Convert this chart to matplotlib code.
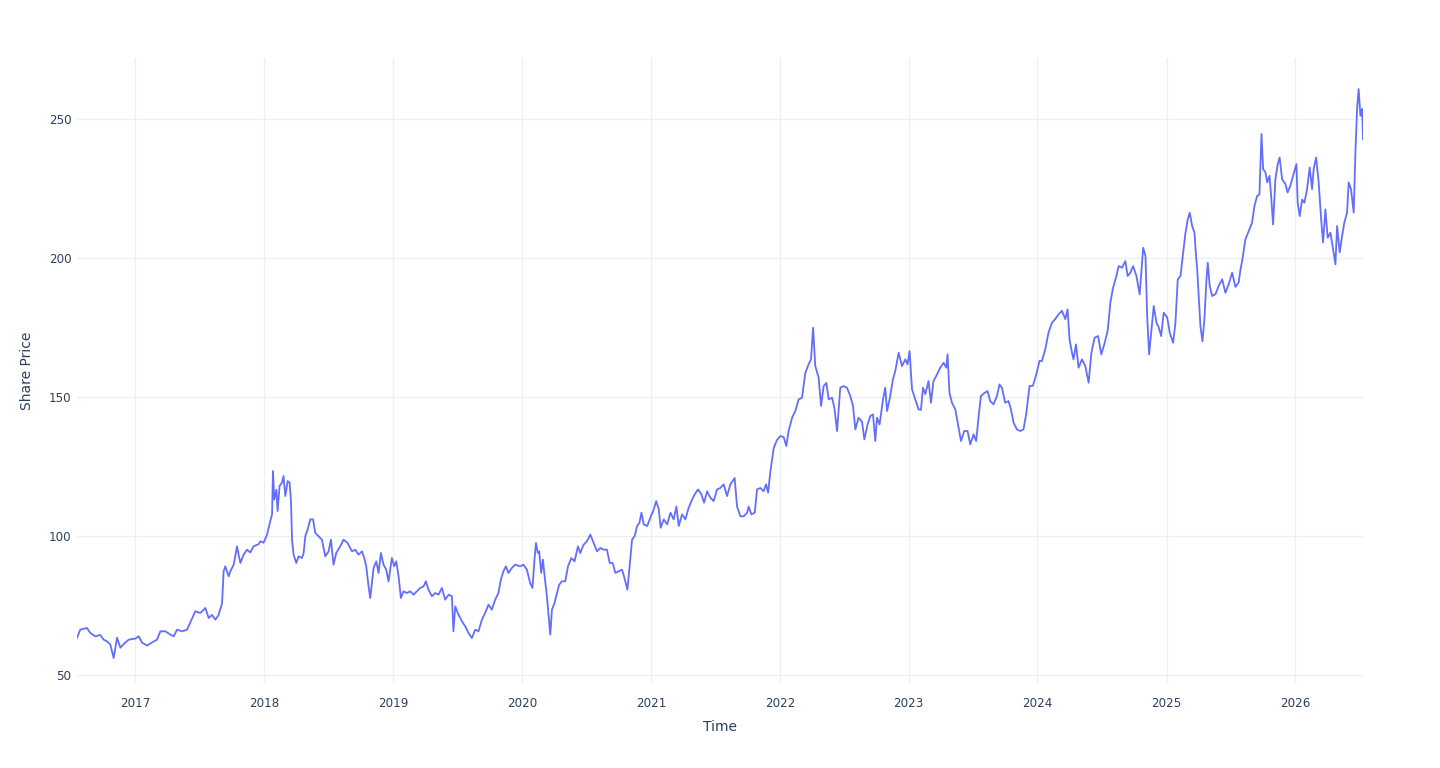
import matplotlib
matplotlib.use("Agg")
import matplotlib.pyplot as plt
import matplotlib.dates as mdates
import pandas as pd

# time in decimal years, price
times = [
    2016.548, 2016.573, 2016.625, 2016.651, 2016.690, 2016.728, 2016.754, 2016.780, 2016.806, 2016.832,
    2016.858, 2016.884, 2016.909, 2016.948, 2017.000, 2017.026, 2017.052, 2017.091, 2017.130, 2017.168,
    2017.194, 2017.233, 2017.272, 2017.297, 2017.324, 2017.362, 2017.401, 2017.427, 2017.465, 2017.504,
    2017.543, 2017.569, 2017.595, 2017.621, 2017.646, 2017.673, 2017.685, 2017.698, 2017.724, 2017.737,
    2017.763, 2017.789, 2017.801, 2017.815, 2017.840, 2017.867, 2017.892, 2017.918, 2017.957, 2017.970,
    2017.995, 2018.022, 2018.047, 2018.061, 2018.068, 2018.078, 2018.094, 2018.104, 2018.119, 2018.138,
    2018.150, 2018.164, 2018.182, 2018.197, 2018.208, 2018.216, 2018.228, 2018.249, 2018.267, 2018.293,
    2018.306, 2018.319, 2018.337, 2018.358, 2018.379, 2018.396, 2018.422, 2018.448, 2018.474, 2018.500,
    2018.518, 2018.538, 2018.559, 2018.590, 2018.616, 2018.647, 2018.681, 2018.707, 2018.732, 2018.759,
    2018.777, 2018.792, 2018.810, 2018.823, 2018.849, 2018.870, 2018.888, 2018.906, 2018.926, 2018.947,
    2018.965, 2018.991, 2019.009, 2019.025, 2019.043, 2019.061, 2019.081, 2019.108, 2019.133, 2019.159,
    2019.185, 2019.211, 2019.237, 2019.255, 2019.275, 2019.302, 2019.327, 2019.353, 2019.379, 2019.405,
    2019.431, 2019.457, 2019.469, 2019.483, 2019.508, 2019.535, 2019.560, 2019.586, 2019.612, 2019.638,
    2019.663, 2019.690, 2019.715, 2019.741, 2019.767, 2019.793, 2019.818, 2019.837, 2019.857, 2019.876,
    2019.896, 2019.922, 2019.948, 2019.987, 2020.012, 2020.039, 2020.064, 2020.082, 2020.098, 2020.109,
    2020.124, 2020.134, 2020.150, 2020.163, 2020.175, 2020.194, 2020.220, 2020.233, 2020.253, 2020.272,
    2020.289, 2020.310, 2020.336, 2020.357, 2020.383, 2020.408, 2020.434, 2020.452, 2020.478, 2020.504,
    2020.530, 2020.556, 2020.582, 2020.607, 2020.633, 2020.659, 2020.680, 2020.703, 2020.724, 2020.749,
    2020.776, 2020.801, 2020.817, 2020.832, 2020.853, 2020.874, 2020.892, 2020.910, 2020.926, 2020.943,
    2020.970, 2020.995, 2021.021, 2021.040, 2021.060, 2021.075, 2021.099, 2021.125, 2021.151, 2021.176,
    2021.197, 2021.215, 2021.241, 2021.267, 2021.288, 2021.313, 2021.339, 2021.365, 2021.391, 2021.412,
    2021.435, 2021.461, 2021.486, 2021.513, 2021.538, 2021.564, 2021.590, 2021.616, 2021.649, 2021.668,
    2021.694, 2021.719, 2021.746, 2021.758, 2021.779, 2021.805, 2021.823, 2021.849, 2021.874, 2021.893,
    2021.909, 2021.926, 2021.952, 2021.978, 2022.004, 2022.030, 2022.050, 2022.068, 2022.095, 2022.120,
    2022.146, 2022.172, 2022.198, 2022.223, 2022.242, 2022.258, 2022.275, 2022.301, 2022.320, 2022.340,
    2022.361, 2022.379, 2022.405, 2022.423, 2022.444, 2022.469, 2022.495, 2022.521, 2022.547, 2022.568,
    2022.586, 2022.611, 2022.638, 2022.656, 2022.681, 2022.702, 2022.723, 2022.741, 2022.754, 2022.774,
    2022.801, 2022.818, 2022.832, 2022.852, 2022.878, 2022.896, 2022.922, 2022.948, 2022.974, 2022.991,
    2023.007, 2023.026, 2023.051, 2023.077, 2023.095, 2023.111, 2023.129, 2023.154, 2023.173, 2023.193,
    2023.220, 2023.245, 2023.271, 2023.292, 2023.302, 2023.317, 2023.336, 2023.362, 2023.387, 2023.406,
    2023.431, 2023.457, 2023.478, 2023.504, 2023.524, 2023.542, 2023.561, 2023.587, 2023.612, 2023.633,
    2023.659, 2023.685, 2023.705, 2023.724, 2023.749, 2023.775, 2023.794, 2023.814, 2023.840, 2023.866,
    2023.891, 2023.912, 2023.938, 2023.964, 2023.990, 2024.016, 2024.034, 2024.060, 2024.085, 2024.112,
    2024.137, 2024.163, 2024.189, 2024.215, 2024.233, 2024.248, 2024.267, 2024.279, 2024.298, 2024.318,
    2024.344, 2024.370, 2024.396, 2024.417, 2024.442, 2024.469, 2024.494, 2024.517, 2024.543, 2024.564,
    2024.585, 2024.611, 2024.628, 2024.655, 2024.680, 2024.698, 2024.719, 2024.740, 2024.766, 2024.791,
    2024.818, 2024.836, 2024.849, 2024.864, 2024.880, 2024.900, 2024.921, 2024.939, 2024.957, 2024.977,
    2025.004, 2025.024, 2025.050, 2025.068, 2025.086, 2025.107, 2025.128, 2025.146, 2025.164, 2025.179,
    2025.198, 2025.216, 2025.226, 2025.237, 2025.249, 2025.262, 2025.278, 2025.293, 2025.309, 2025.319,
    2025.334, 2025.353, 2025.379, 2025.404, 2025.431, 2025.456, 2025.482, 2025.508, 2025.534, 2025.559,
    2025.573, 2025.586, 2025.611, 2025.637, 2025.663, 2025.681, 2025.702, 2025.720, 2025.736, 2025.749,
    2025.767, 2025.780, 2025.798, 2025.811, 2025.826, 2025.844, 2025.862, 2025.877, 2025.896, 2025.922,
    2025.939, 2025.960, 2025.981, 2026.007, 2026.017, 2026.033, 2026.051, 2026.069, 2026.090, 2026.110,
    2026.129, 2026.141, 2026.160, 2026.180, 2026.199, 2026.214, 2026.232, 2026.250, 2026.271, 2026.292,
    2026.310, 2026.323, 2026.343, 2026.362, 2026.379, 2026.400, 2026.413, 2026.431, 2026.452, 2026.465,
    2026.478, 2026.490, 2026.504, 2026.517, 2026.524,
]

prices = [
    63.2, 66.2, 66.8, 65.0, 63.8, 64.3, 62.6, 62.0, 60.8, 56.0,
    63.3, 59.7, 61.0, 62.6, 63.0, 63.8, 61.5, 60.5, 61.6, 62.6,
    65.6, 65.6, 64.4, 63.8, 66.2, 65.6, 66.2, 68.9, 72.8, 72.2,
    74.0, 70.4, 71.5, 69.8, 71.5, 75.8, 87.2, 89.0, 85.4, 87.2,
    89.6, 96.2, 93.2, 90.2, 93.2, 95.0, 94.0, 96.2, 97.0, 98.0,
    97.5, 100.4, 105.3, 107.7, 123.3, 113.0, 116.6, 108.9, 117.9, 119.1,
    121.5, 114.3, 119.7, 119.1, 112.5, 98.6, 93.2, 90.2, 92.6, 92.0,
    93.8, 99.8, 102.3, 105.9, 105.9, 101.1, 99.8, 98.6, 92.6, 94.4,
    98.6, 89.6, 93.8, 96.2, 98.6, 97.4, 94.4, 95.0, 93.2, 94.4,
    92.0, 89.0, 81.8, 77.6, 88.4, 90.8, 86.6, 93.8, 89.6, 87.8,
    83.6, 92.0, 89.0, 90.8, 85.4, 77.6, 80.0, 79.4, 80.0, 78.8,
    80.0, 81.2, 81.8, 83.6, 80.6, 78.2, 79.4, 78.8, 81.2, 77.0,
    78.8, 78.2, 65.6, 74.6, 71.6, 69.2, 67.4, 65.0, 63.2, 66.2,
    65.6, 69.8, 72.2, 75.2, 73.4, 77.0, 79.4, 84.2, 87.2, 89.0,
    86.6, 88.4, 89.6, 89.0, 89.6, 87.8, 83.0, 81.2, 91.4, 97.4,
    93.8, 94.4, 86.6, 91.4, 86.0, 78.2, 64.4, 73.4, 75.8, 79.4,
    82.4, 83.6, 83.6, 89.0, 92.0, 90.8, 96.2, 93.8, 96.8, 98.0,
    100.4, 97.4, 94.4, 95.6, 95.0, 95.0, 90.2, 90.2, 86.6, 87.2,
    87.8, 83.6, 80.6, 87.8, 98.6, 100.0, 103.5, 104.7, 108.3, 104.1,
    103.5, 106.5, 109.5, 112.5, 109.5, 102.9, 105.9, 104.1, 108.3, 105.9,
    110.5, 103.5, 107.7, 105.9, 109.5, 112.5, 114.9, 116.7, 114.9, 111.9,
    116.0, 113.7, 112.5, 116.7, 117.2, 118.5, 114.3, 118.5, 120.8, 110.5,
    107.0, 107.0, 108.3, 110.5, 107.7, 108.3, 116.7, 117.2, 116.0, 118.5,
    115.5, 123.0, 131.5, 134.5, 135.9, 135.5, 132.3, 137.7, 142.5, 144.9,
    149.1, 149.7, 158.7, 161.7, 163.5, 174.9, 161.1, 156.9, 146.7, 153.9,
    155.0, 149.1, 149.7, 146.1, 137.7, 153.3, 153.9, 153.3, 150.3, 146.7,
    138.3, 142.5, 141.0, 134.7, 140.1, 143.1, 143.7, 134.1, 142.5, 140.1,
    149.1, 153.3, 144.9, 149.1, 156.3, 159.3, 165.9, 161.1, 163.5, 161.7,
    166.5, 152.7, 149.1, 145.5, 145.3, 153.3, 151.0, 155.7, 147.9, 155.7,
    158.1, 160.5, 162.3, 160.5, 165.3, 151.4, 147.9, 145.5, 138.9, 134.1,
    137.7, 137.7, 132.9, 136.5, 134.1, 142.5, 150.3, 151.4, 152.1, 148.5,
    147.3, 150.3, 154.5, 153.3, 147.9, 148.5, 145.5, 140.7, 138.3, 137.7,
    138.3, 143.7, 153.9, 154.0, 158.0, 163.0, 162.9, 167.1, 173.1, 176.7,
    178.0, 179.7, 181.0, 178.0, 181.5, 170.7, 165.9, 163.5, 168.9, 160.5,
    163.5, 161.1, 155.1, 165.9, 171.3, 171.9, 165.3, 168.9, 173.7, 183.9,
    189.3, 193.5, 197.1, 196.5, 198.9, 193.5, 194.7, 197.1, 193.5, 186.9,
    203.7, 200.7, 179.1, 165.3, 173.1, 182.7, 176.7, 175.0, 171.9, 180.3,
    178.6, 173.1, 169.5, 176.7, 192.3, 193.5, 201.9, 209.1, 214.0, 216.3,
    211.5, 209.1, 201.9, 195.9, 186.3, 175.5, 170.0, 178.0, 192.3, 198.3,
    190.0, 186.3, 187.0, 190.0, 192.3, 187.5, 190.6, 194.7, 189.6, 191.2,
    195.9, 198.9, 206.7, 209.7, 212.7, 218.7, 222.3, 222.9, 244.6, 232.0,
    230.8, 227.2, 229.6, 222.3, 212.1, 228.4, 233.8, 236.2, 228.4, 226.6,
    223.6, 226.0, 229.6, 233.8, 219.9, 215.1, 221.0, 219.9, 224.8, 232.6,
    224.8, 232.0, 236.2, 227.2, 214.0, 205.6, 217.5, 207.3, 209.1, 203.1,
    197.7, 211.5, 202.0, 208.0, 212.7, 216.3, 227.2, 224.8, 216.3, 238.0,
    253.7, 260.8, 251.2, 253.7, 242.8,
]

year_ticks = list(range(2017, 2027))
price_ticks = [50, 100, 150, 200, 250]


def to_date(t):
    y = int(t)
    start = pd.Timestamp(year=y, month=1, day=1)
    end = pd.Timestamp(year=y + 1, month=1, day=1)
    return start + (end - start) * (t - y)


dates = [to_date(t) for t in times]

text_color = "#2a3f5f"
grid_color = "#ebf0f8"

fig = plt.figure(figsize=(14.4, 7.68), dpi=100)
ax = fig.add_axes([77 / 1440, 1 - 683 / 768, (1363 - 77) / 1440, (683 - 58) / 768])

ax.plot(dates, prices, color="#636efa", linewidth=1.3, zorder=3)

ax.set_xlim(dates[0], dates[-1])
ax.set_ylim(47, 272)
ax.set_xticks([pd.Timestamp(year=y, month=1, day=1) for y in year_ticks])
ax.xaxis.set_major_formatter(mdates.DateFormatter("%Y"))
ax.set_yticks(price_ticks)

ax.grid(True, color=grid_color, linewidth=1.0, zorder=0)
ax.set_axisbelow(True)
for s in ax.spines.values():
    s.set_visible(False)

ax.tick_params(axis="both", length=0, labelsize=8.6, labelcolor=text_color)
ax.tick_params(axis="x", pad=10)
ax.tick_params(axis="y", pad=4)

ax.set_xlabel("Time", fontsize=10, color=text_color, labelpad=7)
ax.set_ylabel("Share Price", fontsize=10, color=text_color, labelpad=11)

fig.savefig("out.png", dpi=100, facecolor="white")
